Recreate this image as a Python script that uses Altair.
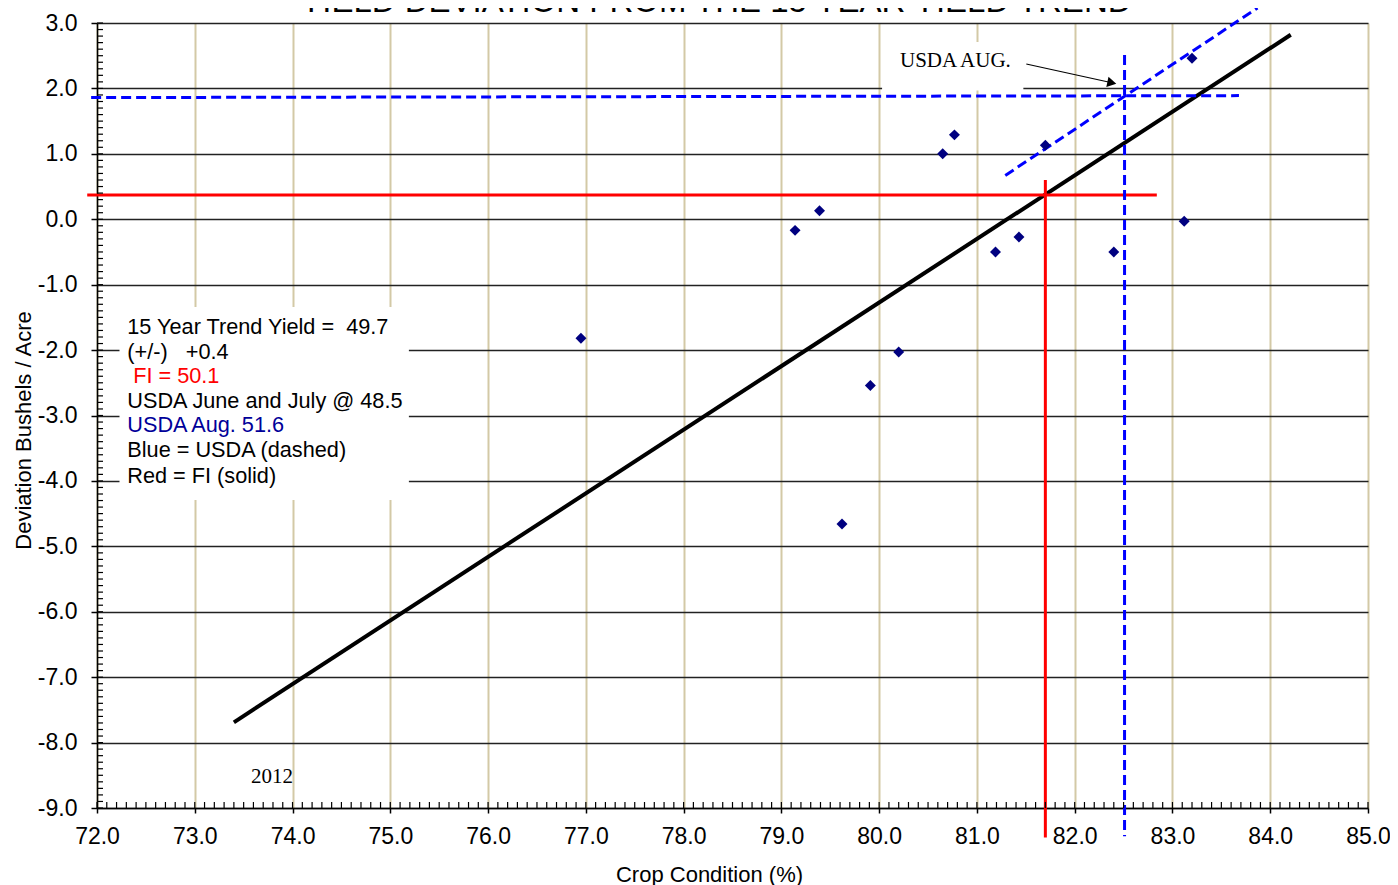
import altair as alt
import pandas as pd

# ---- data ----
crop_condition = [76.95, 79.14, 79.39, 79.62, 79.91, 80.20, 80.65, 80.77, 81.19, 81.43, 81.70, 82.40, 83.12, 83.20]
deviation = [-1.82, -0.17, 0.13, -4.66, -2.54, -2.03, 1.00, 1.29, -0.50, -0.27, 1.13, -0.50, -0.03, 2.46]

seg_name = ["trend", "fi_h", "fi_v", "usda_h", "usda_v", "usda_diag"]
seg_x1 = [73.40, 71.90, 81.70, 71.94, 82.51, 81.29]
seg_y1 = [-7.69, 0.37, 0.60, 1.86, 2.51, 0.67]
seg_x2 = [84.21, 82.84, 81.70, 83.68, 82.51, 83.87]
seg_y2 = [2.82, 0.37, -9.45, 1.89, -9.43, 3.23]

box_lines = [
    "15 Year Trend Yield =\u00a0 49.7",
    "(+/-)\u00a0\u00a0 +0.4",
    "FI = 50.1",
    "USDA June and July @ 48.5",
    "USDA Aug. 51.6",
    "Blue = USDA (dashed)",
    "Red = FI (solid)",
]
box_colors = ["#000000", "#000000", "#ff0000", "#000000", "#000099", "#000000", "#000000"]
box_x = [72.31, 72.31, 72.37, 72.31, 72.31, 72.31, 72.31]
box_y = [-1.645, -2.027, -2.394, -2.777, -3.143, -3.526, -3.923]

x_ticks = list(range(72, 86))
y_ticks = list(range(-9, 4))
x_minor = [round(72 + i * 0.1, 1) for i in range(131)]
y_minor = [round(-9 + i * 0.1, 1) for i in range(121)]

W, H = 1271, 785
SANS = "Liberation Sans, Arial, sans-serif"
SERIF = "Liberation Serif, Times New Roman, serif"

XS = alt.Scale(domain=[72, 85], nice=False, zero=False)
YS = alt.Scale(domain=[-9, 3], nice=False, zero=False)

lab_expr = "(datum.value < 0 ? '-' : '') + format(abs(datum.value), '.1f')"

x_axis = alt.Axis(values=x_ticks, labelExpr=lab_expr, title="Crop Condition (%)",
                  grid=True, gridColor="#d3c9a6", gridWidth=2,
                  domainColor="#000000", domainWidth=1.5,
                  tickColor="#000000", tickSize=5, tickWidth=1.5,
                  labelFont=SANS, labelFontSize=23, labelColor="#000000", labelPadding=12,
                  labelFlush=False, labelOverlap=False,
                  titleFont=SANS, titleFontSize=22, titleFontWeight="normal", titleColor="#000000",
                  titleX=612, titleY=73, titleBaseline="alphabetic", titleAlign="center")
y_axis = alt.Axis(values=y_ticks, labelExpr=lab_expr, title="Deviation Bushels / Acre",
                  grid=True, gridColor="#222222", gridWidth=1.5,
                  domainColor="#000000", domainWidth=1.5,
                  tickColor="#000000", tickSize=6, tickWidth=1.5,
                  labelFont=SANS, labelFontSize=23, labelColor="#000000", labelPadding=14,
                  labelFlush=False, labelOverlap=False,
                  titleFont=SANS, titleFontSize=22, titleFontWeight="normal", titleColor="#000000",
                  titleX=-67, titleY=407, titleAngle=270, titleBaseline="alphabetic", titleAlign="center")


def X(f):
    return alt.X(f, scale=XS, axis=x_axis)


def Y(f):
    return alt.Y(f, scale=YS, axis=y_axis)


pts = pd.DataFrame({"x": crop_condition, "y": deviation})
segs = pd.DataFrame({"name": seg_name, "x": seg_x1, "y": seg_y1, "x2": seg_x2, "y2": seg_y2})

points = alt.Chart(pts).mark_point(shape="diamond", filled=True, size=120, color="#000080", opacity=1).encode(
    x=X("x:Q"), y=Y("y:Q"))

# white boxes behind annotations (hide gridlines)
wbox = pd.DataFrame({"x": [72.23, 80.03], "x2": [75.19, 81.475], "y": [-1.34, 2.71], "y2": [-4.29, 1.97]})
boxes = alt.Chart(wbox).mark_rect(color="#ffffff").encode(
    x=X("x:Q"), x2="x2:Q", y=Y("y:Q"), y2="y2:Q")


def seg_layer(names, color, width, dash=None):
    kw = dict(color=color, strokeWidth=width)
    if dash:
        kw["strokeDash"] = dash
    return alt.Chart(segs[segs["name"].isin(names)]).mark_rule(**kw).encode(
        x=X("x:Q"), x2="x2:Q", y=Y("y:Q"), y2="y2:Q")


trend = seg_layer(["trend"], "#000000", 4)
red = seg_layer(["fi_h", "fi_v"], "#ff0000", 3)
blue = seg_layer(["usda_h", "usda_v", "usda_diag"], "#0000ff", 3, [10, 5])

# minor ticks pointing inward
ymin_df = pd.DataFrame({"y": y_minor})
xmin_df = pd.DataFrame({"x": x_minor})
ytk = alt.Chart(ymin_df).mark_rule(color="#000000", strokeWidth=1.2).encode(
    y=Y("y:Q"), x=alt.value(0), x2=alt.value(6))
xtk = alt.Chart(xmin_df).mark_rule(color="#000000", strokeWidth=1.2).encode(
    x=X("x:Q"), y=alt.value(H), y2=alt.value(H - 6))

# text box
tb = pd.DataFrame({"t": box_lines, "c": box_colors, "y": box_y, "x": box_x})
texts = alt.Chart(tb).mark_text(align="left", baseline="middle", font=SANS, fontSize=21.7).encode(
    x=X("x:Q"), y=Y("y:Q"), text="t:N", color=alt.Color("c:N", scale=None))

ann = pd.DataFrame({"t": ["USDA AUG.", "2012"], "x": [80.78, 73.79], "y": [2.33, -8.62]})
ann_text = alt.Chart(ann).mark_text(align="center", baseline="alphabetic", font=SERIF, fontSize=21, color="#000000").encode(
    x=X("x:Q"), y=Y("y:Q"), text="t:N")

title_df = pd.DataFrame({"t": ["YIELD DEVIATION FROM THE 15 YEAR YIELD TREND"], "x": [78.33], "y": [3.168]})
title = alt.Chart(title_df).mark_text(align="center", baseline="alphabetic", font=SANS, fontSize=33, color="#000000").encode(
    x=X("x:Q"), y=Y("y:Q"), text="t:N")

# arrow
arrow_df = pd.DataFrame({"x": [81.505], "y": [2.373], "x2": [82.38], "y2": [2.087]})
arrow_line = alt.Chart(arrow_df).mark_rule(color="#000000", strokeWidth=1.2).encode(
    x=X("x:Q"), x2="x2:Q", y=Y("y:Q"), y2="y2:Q")
arrow_head = alt.Chart(arrow_df).mark_point(shape="triangle-right", filled=True, size=110, color="#000000", opacity=1, angle=12).encode(
    x=X("x2:Q"), y=Y("y2:Q"))

chart = alt.layer(
    boxes, trend, red, blue, points, ytk, xtk, texts, ann_text, title, arrow_line, arrow_head
).properties(
    width=W, height=H,
    padding={"left": 89, "top": 15, "right": 22, "bottom": 77},
    autosize=alt.AutoSizeParams(type="none"),
).configure_view(stroke=None).configure(background="#ffffff")

chart.save("out.html", embed_options={"renderer": "svg", "actions": False})
